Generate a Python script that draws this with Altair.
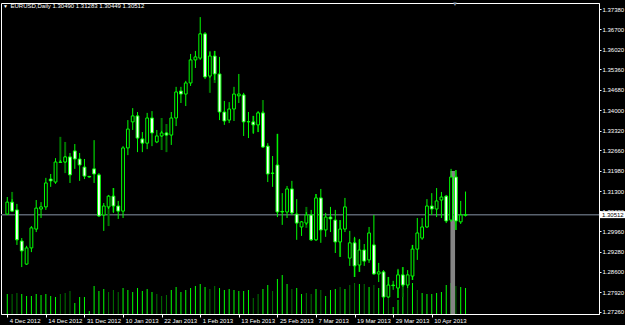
import altair as alt
import pandas as pd

symbol_header = "EURUSD,Daily  1.30490 1.31283 1.30449 1.30512"
date_labels = ["4 Dec 2012", "14 Dec 2012", "31 Dec 2012", "10 Jan 2013", "22 Jan 2013",
               "1 Feb 2013", "13 Feb 2013", "25 Feb 2013", "7 Mar 2013", "19 Mar 2013",
               "29 Mar 2013", "10 Apr 2013"]
label_bars = [0, 8, 16, 24, 32, 40, 48, 56, 64, 72, 80, 88]
price_ticks = [1.37380, 1.36700, 1.36020, 1.35360, 1.34680, 1.34000, 1.33320, 1.32660,
               1.31980, 1.31300, 1.30620, 1.29960, 1.29280, 1.28600, 1.27920, 1.27260]
current_price = 1.30512

opens = [1.3053, 1.3093, 1.3067, 1.2963, 1.2886, 1.2940, 1.3003, 1.3070, 1.3077, 1.3170,
         1.3160, 1.3227, 1.3227, 1.3244, 1.3264, 1.3237, 1.3210, 1.3179, 1.3204, 1.3184,
         1.3050, 1.3077, 1.3113, 1.3080, 1.3063, 1.3274, 1.3361, 1.3381, 1.3304, 1.3290,
         1.3374, 1.3294, 1.3314, 1.3324, 1.3317, 1.3374, 1.3464, 1.3454, 1.3491, 1.3568,
         1.3574, 1.3655, 1.3514, 1.3581, 1.3521, 1.3394, 1.3367, 1.3404, 1.3448, 1.3451,
         1.3362, 1.3361, 1.3351, 1.3391, 1.3280, 1.3190, 1.3217, 1.3062, 1.3060, 1.3137,
         1.3053, 1.3010, 1.3023, 1.3050, 1.2967, 1.3107, 1.3000, 1.3043, 1.3033, 1.2960,
         1.3003, 1.2906, 1.2957, 1.2883, 1.2933, 1.2900, 1.2950, 1.2853, 1.2860, 1.2776,
         1.2816, 1.2806, 1.2850, 1.2816, 1.2846, 1.2936, 1.2973, 1.3010, 1.3080, 1.3070,
         1.3100, 1.3113, 1.3033, 1.3177, 1.3027, 1.30490]
highs = [1.3110, 1.3103, 1.3087, 1.2973, 1.2947, 1.3013, 1.3100, 1.3093, 1.3174, 1.3187,
         1.3240, 1.3234, 1.3247, 1.3257, 1.3287, 1.3257, 1.3237, 1.3180, 1.3300, 1.3190,
         1.3090, 1.3117, 1.3140, 1.3097, 1.3280, 1.3367, 1.3407, 1.3394, 1.3327, 1.3391,
         1.3397, 1.3334, 1.3331, 1.3327, 1.3394, 1.3478, 1.3478, 1.3498, 1.3588, 1.3598,
         1.3711, 1.3661, 1.3594, 1.3598, 1.3578, 1.3431, 1.3427, 1.3478, 1.3521, 1.3458,
         1.3394, 1.3381, 1.3397, 1.3397, 1.3290, 1.3247, 1.3321, 1.3123, 1.3147, 1.3164,
         1.3103, 1.3030, 1.3060, 1.3067, 1.3120, 1.3137, 1.3057, 1.3077, 1.3067, 1.3033,
         1.3107, 1.2997, 1.2977, 1.2970, 1.2953, 1.3010, 1.3050, 1.2890, 1.2866, 1.2843,
         1.2830, 1.2870, 1.2876, 1.2866, 1.2950, 1.3040, 1.3040, 1.3103, 1.3123, 1.3140,
         1.3127, 1.3117, 1.3204, 1.3200, 1.3097, 1.31283]
lows = [1.3050, 1.3060, 1.2950, 1.2876, 1.2883, 1.2926, 1.2993, 1.3040, 1.3067, 1.3144,
        1.3154, 1.3224, 1.3224, 1.3157, 1.3204, 1.3164, 1.3170, 1.3175, 1.3157, 1.3043,
        1.2997, 1.3070, 1.3057, 1.3037, 1.3040, 1.3250, 1.3334, 1.3260, 1.3260, 1.3270,
        1.3280, 1.3290, 1.3311, 1.3314, 1.3284, 1.3347, 1.3424, 1.3414, 1.3481, 1.3541,
        1.3568, 1.3504, 1.3508, 1.3501, 1.3367, 1.3351, 1.3357, 1.3364, 1.3424, 1.3314,
        1.3307, 1.3321, 1.3327, 1.3274, 1.3160, 1.3144, 1.3043, 1.3017, 1.3040, 1.3050,
        1.2967, 1.2980, 1.3017, 1.2963, 1.2963, 1.2957, 1.2977, 1.2993, 1.2923, 1.2910,
        1.2993, 1.2880, 1.2843, 1.2860, 1.2880, 1.2890, 1.2850, 1.2826, 1.2774, 1.2774,
        1.2800, 1.2773, 1.2810, 1.2806, 1.2833, 1.2900, 1.2967, 1.3007, 1.3050, 1.3043,
        1.3040, 1.3023, 1.3027, 1.3000, 1.3020, 1.30449]
closes = [1.3093, 1.3063, 1.2967, 1.2930, 1.2940, 1.3007, 1.3073, 1.3077, 1.3157, 1.3164,
          1.3227, 1.3226, 1.3244, 1.3184, 1.3237, 1.3217, 1.3180, 1.3177, 1.3187, 1.3047,
          1.3080, 1.3113, 1.3080, 1.3063, 1.3274, 1.3337, 1.3381, 1.3307, 1.3290, 1.3374,
          1.3324, 1.3314, 1.3324, 1.3317, 1.3374, 1.3461, 1.3454, 1.3491, 1.3568, 1.3578,
          1.3655, 1.3511, 1.3581, 1.3521, 1.3394, 1.3364, 1.3404, 1.3454, 1.3454, 1.3361,
          1.3361, 1.3351, 1.3391, 1.3277, 1.3187, 1.3189, 1.3060, 1.3060, 1.3137, 1.3057,
          1.3023, 1.3027, 1.3050, 1.2967, 1.3107, 1.3000, 1.3043, 1.3037, 1.2960, 1.3003,
          1.3077, 1.2957, 1.2880, 1.2933, 1.2896, 1.2990, 1.2853, 1.2860, 1.2776, 1.2816,
          1.2814, 1.2850, 1.2816, 1.2850, 1.2936, 1.2990, 1.3010, 1.3080, 1.3070, 1.3097,
          1.3110, 1.3030, 1.3177, 1.3030, 1.3050, 1.30512]
volumes = [20000, 20000, 21000, 20000, 18000, 18000, 20000, 19000, 20000, 18000,
           17000, 20000, 21000, 23000, 11000, 17000, 17000, 3000, 28000, 23000,
           25000, 22000, 24000, 22000, 26000, 24000, 22000, 26000, 23000, 25000,
           22000, 20000, 18000, 19000, 24000, 27000, 22000, 24000, 26000, 28000,
           30000, 27000, 25000, 28000, 26000, 24000, 25000, 24000, 23000, 23000,
           24000, 16000, 20000, 25000, 29000, 23000, 35000, 39000, 30000, 25000,
           26000, 20000, 21000, 20000, 25000, 24000, 18000, 24000, 25000, 27000,
           25000, 29000, 31000, 30000, 30000, 27000, 29000, 26000, 27000, 18000,
           7000, 14000, 21000, 28000, 31000, 24000, 21000, 20000, 20000, 21000,
           22000, 29000, 31000, 28000, 27000, 26000]
dark_volume_bars = [1, 2, 11, 12, 13, 21, 22, 23, 31, 32, 33, 42, 43, 51, 52, 55, 59, 62,
                    63, 65, 69, 71, 72, 74, 76, 79, 83, 85, 93]

# dark green overlay segments (secondary series)
ghost_bars = [1, 11, 12, 21, 22, 32, 33, 40, 42, 43, 51, 52, 53, 56, 62, 64, 69, 72, 73,
              79, 81, 82, 84, 93]
ghost_top = [1.3127, 1.3311, 1.3294, 1.3077, 1.3140, 1.3374, 1.3354, 1.3658, 1.3598, 1.3598,
             1.3381, 1.3394, 1.3434, 1.3321, 1.3077, 1.3120, 1.3033, 1.2973, 1.2967,
             1.2843, 1.2866, 1.2876, 1.2950, 1.3200]
ghost_bottom = [1.3093, 1.3224, 1.3190, 1.3013, 1.3060, 1.3267, 1.3260, 1.3574, 1.3458, 1.3491,
                1.3324, 1.3327, 1.3391, 1.3134, 1.3007, 1.2967, 1.2910, 1.2843, 1.2860,
                1.2783, 1.2773, 1.2776, 1.2833, 1.3000]

# highlighted bar (grey marker)
marker_from, marker_to, marker_top = 91.87, 92.83, 1.3197

LIME = "#00ff00"
DARK = "#007400"

n = len(opens)
df = pd.DataFrame({
    "i": list(range(n)), "o": opens, "h": highs, "l": lows, "c": closes,
    "vol": volumes,
})
df["fill"] = ["#ffffff" if c < o else "#000000" for o, c in zip(opens, closes)]
df["vcol"] = [DARK if k in dark_volume_bars else LIME for k in range(n)]
df["v0"] = 0

gdf = pd.DataFrame({"i": ghost_bars, "t": ghost_top, "b": ghost_bottom})

price_min, price_max = 1.27193, 1.37581
ps = alt.Scale(domain=[price_min, price_max], nice=False, zero=False)
xs = alt.Scale(domain=[-0.265, 121.63], nice=False, zero=False)

label_expr = "[" + ",".join("'%s'" % s for s in date_labels) + "][round(datum.value/8)]"
x_axis = alt.Axis(values=label_bars, labelExpr=label_expr, labelAlign="left",
                  labelOffset=2, tickSize=3, labelPadding=0, grid=False,
                  labelFontSize=6, labelColor="#ffffff", tickColor="#ffffff",
                  domainColor="#ffffff", title=None, labelFlush=False, labelOverlap=False)
X = alt.X("i:Q", scale=xs, axis=x_axis)

base = alt.Chart(df)

vol_layer = base.mark_rule(strokeWidth=1).encode(
    x=X,
    y=alt.Y("vol:Q", scale=alt.Scale(domain=[0, 311000], nice=False), axis=None),
    y2="v0:Q",
    color=alt.Color("vcol:N", scale=None),
)

mk = pd.DataFrame({"a": [marker_from], "b": [marker_to], "t": [marker_top], "btm": [price_min]})
marker_layer = alt.Chart(mk).mark_rect(color="#858585").encode(
    x=alt.X("a:Q", scale=xs, axis=x_axis), x2="b:Q",
    y=alt.Y("t:Q", scale=ps, axis=None), y2="btm:Q",
)

price_line = alt.Chart(pd.DataFrame({"p": [current_price]})).mark_rule(
    color="#59626e", strokeWidth=1.5).encode(
    y=alt.Y("p:Q", scale=ps, axis=None), x=alt.value(0), x2=alt.value(598))

ghost = alt.Chart(gdf).mark_rule(color=DARK, strokeWidth=2).encode(
    x=alt.X("i:Q", scale=xs, axis=x_axis), y=alt.Y("t:Q", scale=ps, axis=None), y2="b:Q")

wicks = base.mark_rule(color=LIME, strokeWidth=1).encode(
    x=X, y=alt.Y("l:Q", scale=ps, axis=None), y2="h:Q")

y_axis = alt.Axis(values=price_ticks, format=".5f", orient="right", labelAlign="left",
                  tickSize=2, labelPadding=1, labelFontSize=6, labelColor="#ffffff",
                  tickColor="#ffffff", domainColor="#ffffff", grid=False, title=None,
                  labelFlush=False, labelOverlap=False)
bodies = base.mark_bar(size=2.8, stroke=LIME, strokeWidth=1).encode(
    x=X, y=alt.Y("o:Q", scale=ps, axis=y_axis), y2="c:Q",
    fill=alt.Fill("fill:N", scale=None),
)

tag_df = pd.DataFrame({"p": [current_price], "t": ["%.5f" % current_price]})
tag_box = alt.Chart(tag_df).mark_rule(color="#ffffff", strokeWidth=7).encode(
    y=alt.Y("p:Q", scale=ps, axis=None), x=alt.value(599), x2=alt.value(624))
tag_text = alt.Chart(tag_df).mark_text(color="#000000", fontSize=6, align="left",
                                       baseline="middle", font="Liberation Sans").encode(
    y=alt.Y("p:Q", scale=ps, axis=None), x=alt.value(601), text="t:N")

hdr = pd.DataFrame({"t": [symbol_header], "tri": ["\u25BC"]})
header_tri = alt.Chart(hdr).mark_text(color="#ffffff", fontSize=5, align="left",
                                      baseline="middle", font="Liberation Sans").encode(
    x=alt.value(2), y=alt.value(3), text="tri:N")
header_txt = alt.Chart(hdr).mark_text(color="#ffffff", fontSize=6, align="left",
                                      baseline="middle", font="Liberation Sans").encode(
    x=alt.value(9.5), y=alt.value(3), text="t:N")
shift_mark = alt.Chart(hdr).mark_text(color="#8a9bb0", fontSize=6, align="center",
                                      baseline="top", font="Liberation Sans").encode(
    x=alt.value(454), y=alt.value(-2), text="tri:N")

chart = alt.layer(
    vol_layer, marker_layer, price_line, ghost, wicks, bodies, tag_box, tag_text,
    header_tri, header_txt, shift_mark
).resolve_scale(y="independent").properties(
    width=598, height=311,
    padding={"left": 1, "top": 3, "right": 26, "bottom": 11},
    autosize=alt.AutoSizeParams(type="none"),
    background="#000000",
).configure_view(stroke="#ffffff", strokeWidth=1, fill="#000000").configure_axis(
    labelFont="Liberation Sans"
)

chart.save("out.html", embed_options={"renderer": "svg", "actions": False})
